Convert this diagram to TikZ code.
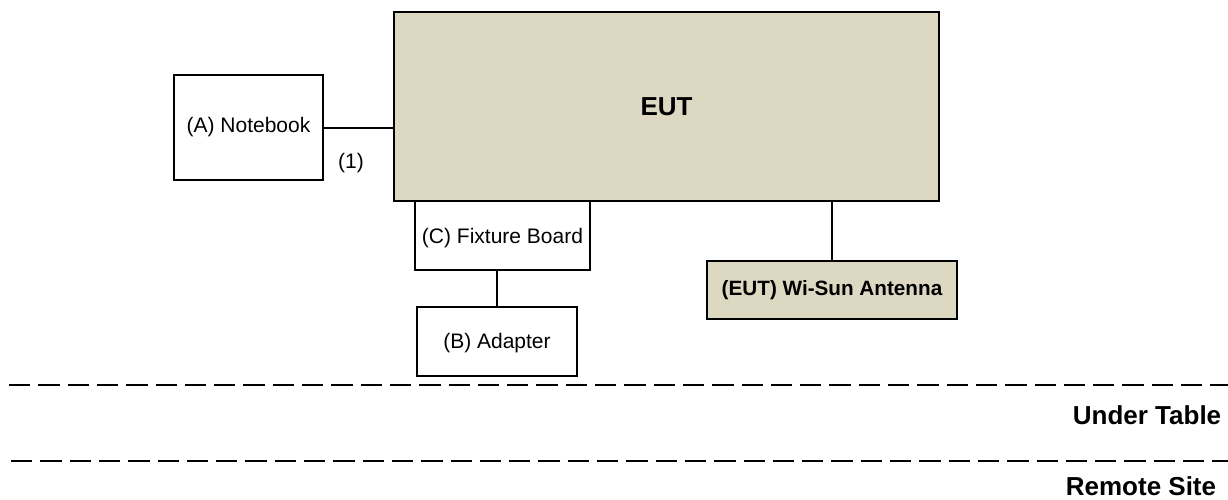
\documentclass[tikz,border=0pt]{standalone}
\usepackage{fontspec}
\setmainfont{Liberation Sans}
\definecolor{eutfill}{HTML}{DDD8C2}
\tikzset{
  box/.style={draw=black, line width=2.5pt, fill=white, inner sep=0pt, align=center, font=\fontsize{21}{25}\selectfont},
  eutbox/.style={box, fill=eutfill},
  wire/.style={draw=black, line width=2pt},
  sep/.style={draw=black, line width=2.7pt, dash pattern=on 21.3pt off 8pt},
  zone/.style={inner sep=0pt, font=\fontsize{26}{30}\selectfont\bfseries}
}
\begin{document}
\begin{tikzpicture}[x=1pt,y=-1pt]
\useasboundingbox (0,0) rectangle (1228,499);
\node[eutbox, minimum width=545pt, minimum height=189pt, font=\fontsize{26}{30}\selectfont\bfseries] (eut) at (666.5,106.5) {EUT};
\node[box, minimum width=149pt, minimum height=105pt] (nb) at (248.5,127.5) {(A) Notebook};
\node[box, minimum width=175pt, minimum height=69pt] (fix) at (502.5,235.5) {};
\node[inner sep=0pt, font=\fontsize{21}{25}\selectfont] (fixt) at (502.5,238) {(C) Fixture Board};
\node[box, minimum width=160pt, minimum height=69pt] (ad) at (497,341.5) {};
\node[inner sep=0pt, font=\fontsize{21}{25}\selectfont] (adt) at (497,343) {(B) Adapter};
\node[eutbox, minimum width=250pt, minimum height=58pt, font=\fontsize{20.7}{24}\selectfont\bfseries] (ant) at (832,290) {(EUT) Wi-Sun Antenna};
\node[inner sep=0pt, font=\fontsize{21}{25}\selectfont] (lab1) at (351,163) {(1)};
\draw[wire] (nb.east) -- (nb.east -| eut.west);
\draw[wire] (ad.north) -- (ad.north |- fix.south);
\draw[wire] (ant.north) -- (ant.north |- eut.south);
\coordinate (s1a) at (9,385);
\coordinate (s1b) at (1228,385);
\coordinate (s2a) at (11,461);
\coordinate (s2b) at (1228,461);
\draw[sep] (s1a) -- (s1b);
\draw[sep] (s2a) -- (s2b);
\node[zone] (ut) at (1147,415) {Under Table};
\node[zone, anchor=base] (rs) at (1141,495) {Remote Site};
\end{tikzpicture}
\end{document}
